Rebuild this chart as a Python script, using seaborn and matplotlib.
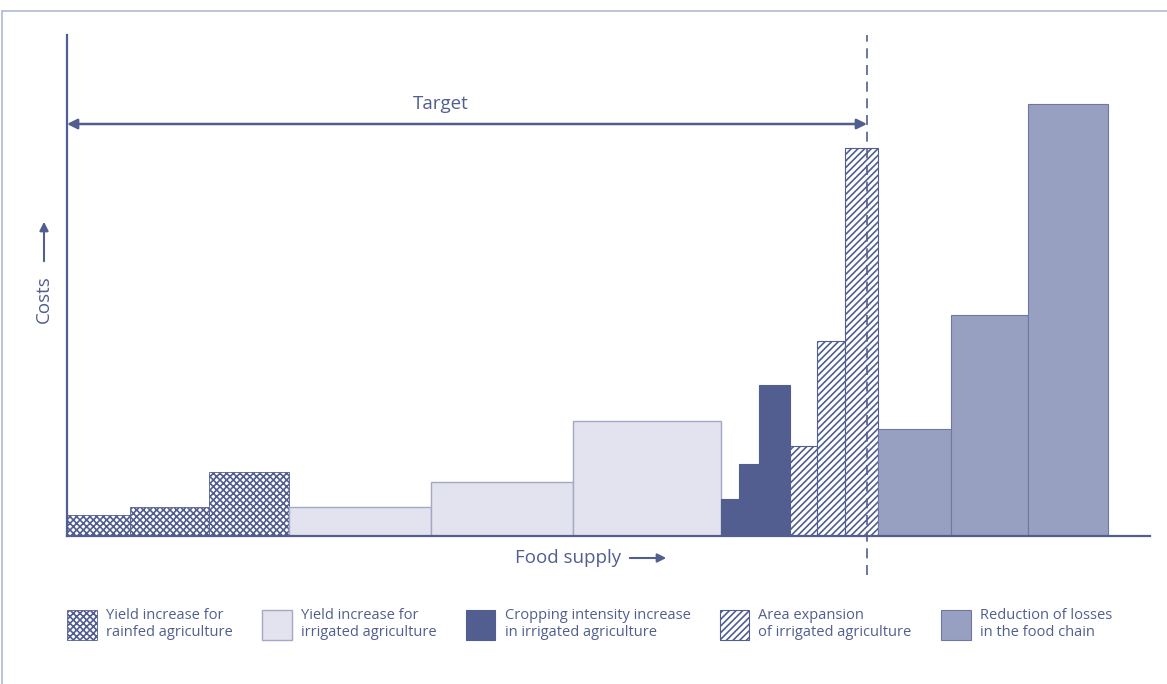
import numpy as np
import matplotlib
matplotlib.use("Agg")
import matplotlib.pyplot as plt
from matplotlib.patches import Patch, FancyArrowPatch
from matplotlib.lines import Line2D
import seaborn as sns

# Data: step-like cost curve, widths = food supply, heights = costs
groups = ["rainfed", "rainfed", "rainfed",
          "irrigated", "irrigated", "irrigated",
          "cropping", "cropping", "cropping",
          "area", "area", "area",
          "losses", "losses", "losses"]
widths = [6.3, 7.9, 8.0, 14.2, 14.2, 14.8, 1.8, 2.0, 3.1, 2.7, 2.8, 3.3, 7.3, 7.7, 8.0]
heights = [2.1, 2.9, 6.4, 2.9, 5.4, 11.5, 3.7, 7.2, 15.1, 9.0, 19.5, 38.8, 10.7, 22.1, 43.2]
target = 80.0

legend_labels = {
    "rainfed": "Yield increase for\nrainfed agriculture",
    "irrigated": "Yield increase for\nirrigated agriculture",
    "cropping": "Cropping intensity increase\nin irrigated agriculture",
    "area": "Area expansion\nof irrigated agriculture",
    "losses": "Reduction of losses\nin the food chain",
}

navy = "#515e8f"
styles = {
    "rainfed": dict(facecolor="white", edgecolor=navy, hatch="xxxxx", linewidth=0.6),
    "irrigated": dict(facecolor="#e2e3ee", edgecolor="#a3a8c7", linewidth=1.0),
    "cropping": dict(facecolor=navy, edgecolor=navy, linewidth=0.8),
    "area": dict(facecolor="white", edgecolor=navy, hatch="/////", linewidth=0.8),
    "losses": dict(facecolor="#98a0c2", edgecolor="#6e78a5", linewidth=0.8),
}

sns.set_style("white")
plt.rcParams["font.family"] = ["Open Sans", "DejaVu Sans"]
plt.rcParams["hatch.linewidth"] = 1.2

fig = plt.figure(figsize=(11.67, 6.84), dpi=100)
ax = fig.add_axes([67 / 1167, 1 - 536 / 684, (1150 - 67) / 1167, (536 - 35) / 684])

lefts = np.concatenate([[0], np.cumsum(widths)[:-1]])
for g, x0, w, h in zip(groups, lefts, widths, heights):
    ax.bar(x0, h, width=w, align="edge", zorder=2, **styles[g])

ax.set_xlim(0, 108.3)
ax.set_ylim(0, 50.1)
ax.set_xticks([])
ax.set_yticks([])
sns.despine(ax=ax, top=True, right=True)
for side in ["left", "bottom"]:
    ax.spines[side].set_color(navy)
    ax.spines[side].set_linewidth(1.6)
    ax.spines[side].set_zorder(3)

# target line and arrow
ax.plot([target, target], [-3.9, 50.1], color=navy, lw=1.2,
        ls=(0, (6, 4)), clip_on=False, zorder=4)
ax.annotate("", xy=(0, 41.2), xytext=(target, 41.2),
            arrowprops=dict(arrowstyle="<|-|>", color=navy, lw=1.8,
                            mutation_scale=15, shrinkA=0, shrinkB=0))
ax.text(37.4, 43.2, "Target", color=navy, fontsize=13.5, ha="center", va="center")

# axis captions with arrows
fig.text(515 / 1167, 1 - 558 / 684, "Food supply", color=navy, fontsize=13.5,
         ha="left", va="center")
fig.patches.append(FancyArrowPatch(
    (627 / 1167, 1 - 558 / 684), (669 / 1167, 1 - 558 / 684),
    transform=fig.transFigure, arrowstyle="-|>", color=navy, lw=1.5,
    mutation_scale=13, figure=fig))
fig.text(44 / 1167, 1 - 299 / 684, "Costs", color=navy, fontsize=13.5,
         ha="center", va="center", rotation=90)
fig.patches.append(FancyArrowPatch(
    (44 / 1167, 1 - 264 / 684), (44 / 1167, 1 - 219 / 684),
    transform=fig.transFigure, arrowstyle="-|>", color=navy, lw=1.5,
    mutation_scale=13, figure=fig))

# frame lines
fig.add_artist(Line2D([2 / 1167, 1], [1 - 10.5 / 684, 1 - 10.5 / 684],
                      color="#b3b8d4", lw=1.2))
fig.add_artist(Line2D([2 / 1167, 2 / 1167], [0, 1 - 10.5 / 684],
                      color="#b3b8d4", lw=1.2))

# legend
handles = [Patch(label=legend_labels[k], **styles[k]) for k in legend_labels]
leg = fig.legend(handles=handles, loc="upper left", ncol=5,
                 bbox_to_anchor=(67 / 1167, 1 - 608 / 684), frameon=False,
                 fontsize=10.5, handlelength=2.05, handleheight=2.8,
                 handletextpad=0.62, columnspacing=2.0, labelcolor=navy,
                 borderaxespad=0, borderpad=0)

fig.savefig("out.png", dpi=100)
